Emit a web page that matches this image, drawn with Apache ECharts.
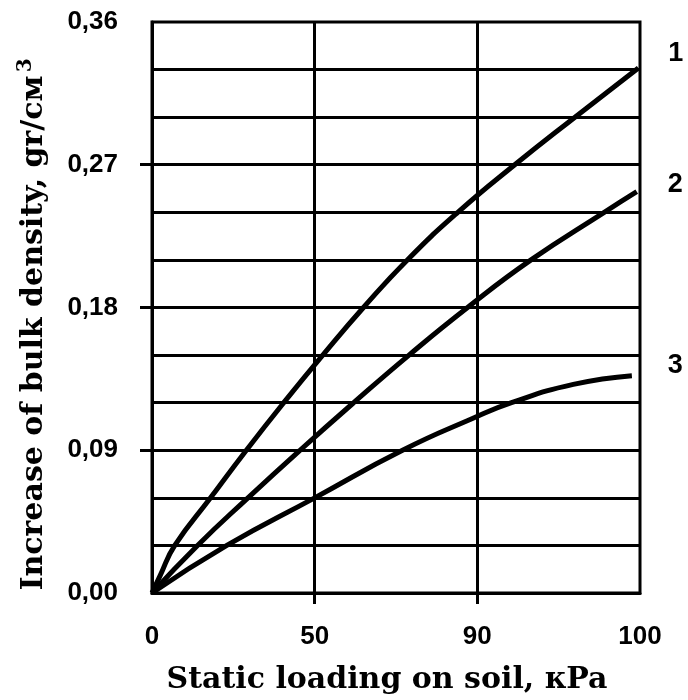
<!DOCTYPE html>
<html>
<head>
<meta charset="utf-8">
<script src="https://cdn.jsdelivr.net/npm/echarts@6/dist/echarts.min.js"></script>
<style>
  html, body { margin: 0; padding: 0; background: #fff; }
  #chart { width: 688px; height: 700px; }
</style>
</head>
<body>
<div id="chart"></div>
<script>
// x labels sit at equally spaced gridlines (positions 0..3)
const loadTicks = ['0', '50', '90', '100']
// y labels every 0.09, thin grid every 0.03
const densityLabelStep = 0.09
const densityMinorSplit = 3

// curve 1
const curve1Pos = [0, 0.05, 0.14, 0.36, 0.58, 0.81, 1.05, 1.30, 1.57, 1.88, 2.23, 2.60, 2.99]
const curve1Val = [0, 0.011, 0.03, 0.06, 0.09, 0.12, 0.15, 0.18, 0.21, 0.24, 0.27, 0.30, 0.331]
// curve 2
const curve2Pos = [0, 0.28, 0.59, 0.91, 1.24, 1.58, 1.94, 2.33, 2.78, 2.98]
const curve2Val = [0, 0.03, 0.06, 0.09, 0.12, 0.15, 0.18, 0.21, 0.24, 0.253]
// curve 3
const curve3Pos = [0, 0.46, 1.00, 1.54, 1.97, 2.21, 2.59, 2.95]
const curve3Val = [0, 0.03, 0.06, 0.09, 0.11, 0.12, 0.1315, 0.137]

const curveNames = ['1', '2', '3']

function pairs(xs, ys) {
  return xs.map((x, i) => [x, ys[i]])
}

const chart = echarts.init(document.getElementById('chart'))

const serifFont = 'DejaVu Serif'
const sansFont = 'Liberation Sans'
const lineColor = '#000'
const gridLine = { show: true, lineStyle: { color: lineColor, width: 3 } }

function lineSeries(name, data, dist, dy) {
  return {
    name: name,
    type: 'line',
    smooth: true,
    symbol: 'none',
    lineStyle: { color: lineColor, width: 5 },
    endLabel: {
      show: true,
      formatter: name,
      distance: dist,
      offset: [0, dy],
      fontFamily: sansFont,
      fontWeight: 'bold',
      fontSize: 27,
      color: '#000'
    },
    data: data
  }
}

const option = {
  backgroundColor: '#ffffff',
  animation: false,
  grid: {
    left: 152, right: 48, top: 22, bottom: 103,
    show: true, borderColor: lineColor, borderWidth: 3
  },
  xAxis: {
    type: 'value',
    min: 0,
    max: 3,
    interval: 1,
    name: 'Static loading on soil, кPa',
    nameLocation: 'middle',
    nameGap: 72,
    nameTextStyle: {
      fontFamily: serifFont,
      fontWeight: 'bold',
      fontSize: 30,
      color: '#000',
      padding: [0, 18, 0, 0]
    },
    axisLine: { show: true, onZero: false, lineStyle: { color: lineColor, width: 3 } },
    axisTick: {
      show: true,
      inside: false,
      customValues: [1, 2],
      length: 11,
      lineStyle: { color: lineColor, width: 3 }
    },
    axisLabel: {
      margin: 31,
      fontFamily: sansFont,
      fontWeight: 'bold',
      fontSize: 26,
      color: '#000',
      formatter: v => loadTicks[Math.round(v)]
    },
    splitLine: gridLine
  },
  yAxis: {
    type: 'value',
    min: 0,
    max: 0.36,
    interval: densityLabelStep,
    name: 'Increase of bulk density, gr/см{sup|3}',
    nameLocation: 'middle',
    nameRotate: 90,
    nameGap: 100,
    nameTextStyle: {
      fontFamily: serifFont,
      fontWeight: 'bold',
      fontSize: 30,
      color: '#000',
      padding: [0, 34, 0, 0],
      rich: {
        sup: {
          fontFamily: serifFont,
          fontWeight: 'bold',
          fontSize: 20,
          color: '#000',
          verticalAlign: 'bottom',
          padding: [0, 0, 16, 3]
        }
      }
    },
    axisLine: { show: true, onZero: false, lineStyle: { color: lineColor, width: 3 } },
    axisTick: {
      show: true,
      inside: false,
      customValues: [0.09, 0.18, 0.27],
      length: 12,
      lineStyle: { color: lineColor, width: 3 }
    },
    minorTick: { show: false, splitNumber: densityMinorSplit },
    minorSplitLine: gridLine,
    axisLabel: {
      margin: 34,
      fontFamily: sansFont,
      fontWeight: 'bold',
      fontSize: 26,
      color: '#000',
      formatter: v => v.toFixed(2).replace('.', ',')
    },
    splitLine: gridLine
  },
  series: [
    lineSeries(curveNames[0], pairs(curve1Pos, curve1Val), 30, -14),
    lineSeries(curveNames[1], pairs(curve2Pos, curve2Val), 31, -7),
    lineSeries(curveNames[2], pairs(curve3Pos, curve3Val), 36, -10)
  ]
}

chart.setOption(option)
window.onresize = function () {
  chart.resize()
}
</script>
</body>
</html>
